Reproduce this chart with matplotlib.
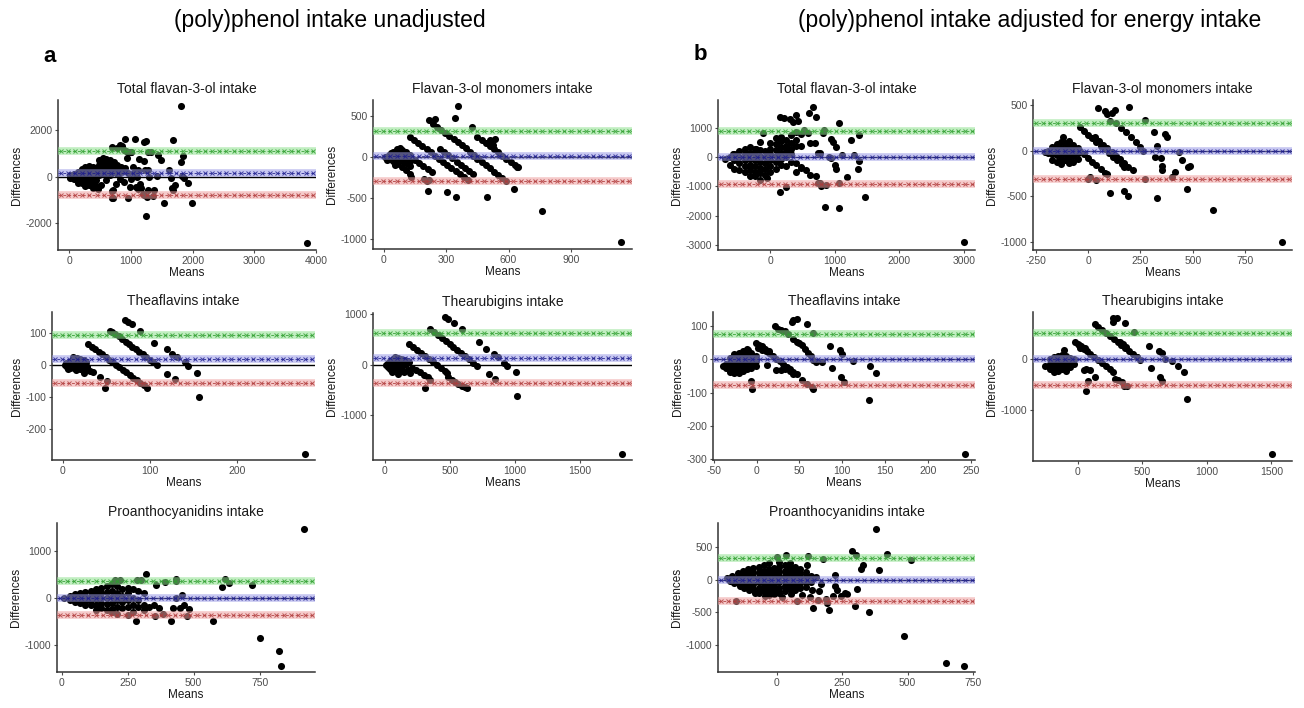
import numpy as np
import matplotlib
matplotlib.use('Agg')
import matplotlib.pyplot as plt

# Bland-Altman points (means, differences)
a1_pts = [(10,0),(20,60),(20,-60),(60,30),(60,-40),(80,120),(80,0),(80,-120),(110,60),(110,-60),
          (140,220),(140,60),(140,-100),(140,-260),(170,140),(170,-180),
          (200,320),(200,120),(200,-80),(200,-280),(230,230),(230,-180),(260,400),(260,200),(260,0),(260,-200),(260,-400),
          (290,300),(290,-300),(320,450),(320,250),(320,50),(320,-150),(320,-380),(350,120),(350,-250),
          (380,400),(380,180),(380,-50),(380,-250),(380,-480),(410,280),(410,-350),
          (440,350),(440,120),(440,-150),(440,-400),(480,700),(480,480),(480,260),(480,50),
          (540,820),(540,600),(540,380),(540,160),(600,760),(600,540),(600,320),(600,120),
          (660,700),(660,480),(660,260),(660,60),(720,620),(720,400),(720,180),(780,520),(780,300),(780,120),
          (840,420),(840,220),(900,350),(950,150),(470,-550),(520,-350),(600,-150),(690,-620),(700,-900),
          (760,-300),(830,-100),(880,-250),(980,-450),(820,1380),(860,1300),(880,1150),(920,1100),(960,1060),
          (1000,1050),(780,1250),(700,1290),(1812,3050),(1070,1626),(908,1611),(1210,1482),(1237,1540),
          (1688,1597),(1005,1079),(1274,1050),(1328,1050),(1435,935),(1489,719),(1129,748),(1204,690),
          (1812,633),(1839,892),(941,791),(1032,432),(1113,288),(1231,288),(1274,288),(1624,288),(1828,29),
          (1855,-72),(1919,-288),(1419,29),(1650,-72),(1715,-360),(1688,-576),(1661,-504),(1086,-432),
          (1113,-547),(1167,-504),(1220,-791),(1258,-863),(1274,-576),(1382,-576),(1355,-835),(710,-576),
          (710,-906),(952,-935),(1194,-748),(1247,-1698),(1532,-1151),(1984,-1151),(3850,-2850),
          (1050,150),(1100,0),(1000,-100),(1150,-300),(1300,0)]
a2_pts = [(5,0),(25,30),(25,-20),(45,70),(45,10),(45,-50),(65,100),(65,40),(65,-20),(65,-80),(85,90),(85,30),
          (85,-40),(85,-120),(105,60),(105,0),(105,-70),(105,-150),(125,30),(125,-40),(125,-110),(125,-200),
          (132,-236),(15,-30),(35,50),(55,-90),(75,110),(150,-30),(170,-68),(190,-106),(210,-144),(230,-182),
          (195,-270),(205,-285),(215,-275),(125,250),(145,212),(165,174),(185,136),(205,98),(225,60),(245,22),
          (265,-16),(285,-54),(305,-92),(325,-130),(345,-168),(365,-206),(385,-244),(405,-282),
          (270,100),(290,62),(310,24),(330,-14),(350,-52),(370,-90),(390,-128),(410,-166),(430,-204),
          (215,450),(235,412),(255,374),(275,336),(295,298),(315,260),(335,222),(355,184),(375,146),(395,108),
          (415,70),(435,32),(455,-6),(450,250),(470,212),(490,174),(510,136),(530,98),(550,60),(570,22),
          (590,-16),(610,-54),(630,-92),(645,-120),(430,16),(450,-22),(470,-60),(490,-98),(510,-136),
          (530,-174),(550,-212),(570,-250),(590,-288),(341,484),(357,626),(245,463),(422,366),(510,211),
          (535,220),(527,150),(626,-386),(494,-480),(349,-480),(304,-427),(213,-407),(763,-650),(1143,-1037),
          (559,28),(643,-122)]
a3_pts = [(2,0),(4,5),(5,-5),(7,10),(8,-8),(10,15),(10,0),(12,20),(13,-10),(14,8),(16,22),(17,-5),(18,12),
          (20,18),(20,-12),(22,5),(24,15),(24,-8),(6,-12),(15,-15),(26,10),(28,-6),(12,25),(16,17),(20,9),
          (24,1),(28,-7),(29,65),(33,57),(37,49),(41,41),(45,33),(49,25),(53,17),(57,9),(61,1),(65,-7),
          (69,-15),(73,-23),(77,-31),(81,-39),(85,-47),(89,-55),(93,-63),(97,-71),(54,105),(57,103),(60,97),
          (64,89),(68,81),(72,73),(76,65),(80,57),(84,49),(88,41),(92,33),(96,25),(100,17),(104,9),(108,1),
          (71,140),(75,135),(80,128),(89,107),(24,-26),(26,-13),(31,-18),(35,-21),(43,-36),(51,-49),(48,-72),
          (156,-98),(154,-24),(144,-3),(140,9),(131,24),(126,34),(120,49),(105,69),(120,-29),(129,-44),
          (278,-276)]
a4_pts = [(10,0),(20,-50),(25,40),(35,-90),(40,80),(50,0),(55,-140),(60,120),(70,40),(75,-60),(80,160),
          (90,80),(95,-30),(100,130),(110,-100),(115,40),(125,110),(130,-50),(140,60),(150,-140),(155,100),
          (165,20),(175,-100),(185,60),(190,-170),(60,-40),(30,20),(100,-180),(188,416),(218,356),(248,296),
          (278,236),(308,176),(338,116),(368,56),(398,-4),(428,-64),(458,-124),(476,-160),(347,706),(377,646),
          (407,586),(437,526),(467,466),(497,406),(527,346),(557,286),(587,226),(617,166),(647,106),(677,46),
          (707,-14),(463,944),(488,904),(532,825),(592,706),(210,-70),(240,-110),(270,-150),(300,-200),
          (330,-250),(347,-297),(309,-462),(488,-244),(515,-290),(540,-330),(565,-370),(592,-416),(615,-445),
          (630,-462),(720,442),(779,310),(836,218),(870,152),(913,46),(939,-20),(1008,-132),(797,-185),
          (849,-284),(1016,-614),(1821,-1762)]
a5_pts = [(10,0),(30,40),(30,-40),(50,80),(50,0),(50,-80),(70,100),(70,0),(70,-100),(90,120),(90,20),
          (90,-80),(90,-150),(110,150),(110,50),(110,-50),(110,-150),(130,200),(130,80),(130,-30),(130,-150),
          (130,-250),(150,220),(150,100),(150,0),(150,-100),(150,-220),(170,250),(170,120),(170,0),(170,-120),
          (170,-250),(190,300),(190,150),(190,20),(190,-100),(190,-230),(190,-300),(210,250),(210,100),
          (210,-50),(210,-200),(210,-330),(230,200),(230,50),(230,-80),(230,-220),(250,220),(250,100),
          (250,-50),(250,-200),(250,-350),(270,180),(270,0),(270,-150),(270,-300),(290,150),(290,-50),
          (290,-200),(310,100),(310,-150),(310,-260),(200,370),(220,390),(285,390),(330,-200),(350,-150),
          (321,514),(302,387),(358,282),(393,331),(432,401),(434,352),(457,70),(434,0),(609,225),(618,401),
          (634,317),(721,282),(917,1458),(415,-479),(573,-493),(283,-479),(352,-373),(384,-338),(422,-211),
          (447,-211),(462,-141),(476,-373),(482,-225),(369,-211),(750,-845),(824,-1113),(832,-1430)]
b1_pts = [(-700,-50),(-620,0),(-620,-250),(-560,100),(-560,-100),(-560,-400),(-480,200),(-480,0),(-480,-200),
          (-480,-450),(-400,300),(-400,100),(-400,-100),(-400,-300),(-400,-500),(-320,350),(-320,150),
          (-320,-50),(-320,-250),(-320,-450),(-320,-650),(-240,300),(-240,100),(-240,-100),(-240,-300),
          (-240,-500),(-240,-650),(-160,250),(-160,50),(-160,-150),(-160,-350),(-160,-550),(-80,200),(-80,0),
          (-80,-200),(-80,-400),(-80,-600),(0,500),(0,300),(0,100),(0,-100),(0,-300),(0,-500),(80,650),
          (80,450),(80,250),(80,50),(80,-150),(80,-400),(160,700),(160,550),(160,350),(160,150),(160,-50),
          (160,-250),(240,600),(240,400),(240,200),(240,0),(240,-300),(320,750),(320,500),(320,300),(320,100),
          (320,-150),(400,850),(400,600),(400,400),(400,-200),(400,-500),(480,800),(480,400),(480,-350),
          (-160,540),(-110,840),(-230,280),(-580,120),(-165,-775),(-52,-718),(662,1733),(600,1528),(704,1391),
          (145,1391),(212,1357),(352,1220),(429,1254),(404,1448),(300,1300),(1066,1163),(973,536),(817,844),
          (828,935),(517,935),(585,844),(610,502),(698,479),(740,160),(776,160),(932,616),(1014,365),
          (1102,80),(1293,80),(1376,764),(1247,593),(910,0),(946,-23),(998,-262),(1024,-410),(1066,-889),
          (1376,-114),(1360,-410),(1190,-684),(481,-342),(559,-433),(610,-604),(704,-639),(740,-889),
          (786,-981),(766,-889),(238,-1003),(869,-946),(843,-1710),(1061,-1744),(1464,-1368),(155,-1174),
          (3000,-2907)]
b2_pts = [(-207,-11),(-190,0),(-190,-30),(-170,40),(-170,-40),(-170,-100),(-150,70),(-150,10),(-150,-50),
          (-150,-120),(-130,90),(-130,30),(-130,-30),(-130,-90),(-130,-150),(-110,80),(-110,20),(-110,-40),
          (-110,-100),(-90,110),(-90,50),(-90,-10),(-90,-70),(-90,-130),(-70,60),(-70,0),(-70,-60),(-70,-120),
          (-50,30),(-50,-30),(-50,-90),(-120,145),(-40,254),(-20,214),(0,174),(20,134),(40,94),(60,54),
          (80,14),(100,-26),(120,-66),(140,-106),(160,-146),(170,-180),(-40,0),(-20,-40),(0,-80),(20,-120),
          (40,-160),(60,-200),(80,-240),(90,-260),(32,145),(52,105),(72,65),(92,25),(112,-15),(132,-55),
          (152,-95),(172,-135),(192,-175),(215,-217),(159,246),(183,199),(207,145),(231,90),(247,40),(263,0),
          (48,464),(80,435),(92,406),(112,417),(128,442),(195,478),(104,326),(132,297),(314,199),(271,333),
          (367,181),(375,152),(327,54),(319,-65),(348,-80),(351,-163),(351,-217),(399,-283),(415,-236),
          (435,-18),(451,-101),(478,-181),(489,-163),(474,-424),(104,-464),(171,-442),(191,-500),(327,-514),
          (598,-645),(925,-1004),(271,-308),(0,-308),(8,-290),(40,-326)]
b3_pts = [(-39,-21),(-36,-15),(-36,-25),(-31,5),(-31,-10),(-31,-25),(-31,-38),(-26,15),(-26,0),(-26,-15),
          (-26,-30),(-26,-42),(-21,20),(-21,5),(-21,-10),(-21,-25),(-21,-40),(-16,25),(-16,10),(-16,-5),
          (-16,-20),(-16,-35),(-11,30),(-11,15),(-11,0),(-11,-15),(-11,-30),(-6,20),(-6,5),(-6,-10),(-6,-25),
          (-1,10),(-1,-5),(-1,-20),(-10,28),(-1,50),(3,42),(7,34),(11,26),(15,18),(19,10),(23,2),(27,-6),
          (31,-14),(35,-22),(39,-30),(43,-38),(2,35),(6,40),(10,30),(14,25),(6,28),(21,99),(25,92),(29,88),
          (33,84),(37,75),(43,62),(47,52),(50,49),(53,44),(57,32),(60,19),(63,10),(66,-1),(70,-8),(77,-8),
          (41,112),(43,118),(47,122),(59,107),(66,79),(12,-18),(23,-31),(29,-33),(33,-28),(39,-35),(43,-43),
          (47,-45),(53,-63),(59,-73),(65,-83),(66,-88),(-5,-88),(-7,-65),(86,40),(88,-26),(98,27),(100,17),
          (99,-53),(102,-68),(113,-6),(132,-21),(140,-41),(131,-121),(243,-284)]
b4_pts = [(-253,-137),(-210,0),(-210,-100),(-210,-200),(-180,50),(-180,-50),(-180,-150),(-180,-250),
          (-150,60),(-150,-30),(-150,-130),(-150,-230),(-120,80),(-120,-10),(-120,-100),(-120,-200),(-90,60),
          (-90,-30),(-90,-130),(-90,-230),(-60,30),(-60,-60),(-60,-160),(-30,0),(-30,-90),(-103,176),
          (-20,340),(10,280),(40,220),(70,160),(100,100),(130,40),(160,-20),(190,-80),(220,-140),(250,-200),
          (277,-248),(0,300),(30,260),(60,230),(20,220),(50,200),(134,686),(160,640),(190,580),(220,520),
          (250,460),(280,400),(310,340),(340,280),(370,220),(400,160),(430,100),(460,40),(484,-20),(277,817),
          (302,817),(277,732),(367,712),(328,340),(349,307),(375,242),(458,46),(437,536),(556,261),(569,-163),
          (634,163),(652,124),(678,0),(729,-33),(781,-137),(825,-248),(639,-346),(652,-431),(851,-771),
          (1505,-1863),(65,-183),(96,-216),(134,-346),(290,-379),(315,-412),(341,-444),(359,-529),(380,-529),
          (65,-621),(78,-425),(49,-216)]
b5_pts = [(-190,20),(-180,-20),(-170,60),(-165,-50),(-150,100),(-150,30),(-150,-40),(-140,-100),
          (-130,130),(-130,50),(-130,-30),(-125,-120),(-110,160),(-110,80),(-110,0),(-110,-80),
          (-105,-160),(-90,180),(-90,100),(-90,20),(-90,-60),(-90,-140),(-85,-210),(-70,200),
          (-70,120),(-70,40),(-70,-40),(-70,-120),(-70,-200),(-50,230),(-50,140),(-50,60),(-50,-20),
          (-50,-100),(-50,-180),(-45,-250),(-30,250),(-30,160),(-30,80),(-30,0),(-30,-80),(-30,-160),(-30,-230),
          (-10,180),(-10,100),(-10,20),(-10,-60),(-10,-140),(-10,-220),(10,270),(10,200),
          (10,120),(10,40),(10,-40),(10,-120),(10,-200),(20,-270),(30,220),(30,140),(30,60),(30,-20),
          (30,-100),(30,-180),(50,260),(50,180),(50,100),(50,20),(50,-60),(50,-140),(55,-220),(70,200),
          (70,130),(70,60),(70,0),(70,-80),(70,-160),(90,160),(90,90),(90,20),(90,-50),(90,-120),
          (95,-230),(110,120),(110,40),(110,-30),(110,-110),(130,60),(130,-40),(135,-150),
          (380,772),(423,396),(287,442),(301,381),(331,228),(321,162),(392,152),(513,294),(176,315),(223,76),
          (223,-102),(229,-152),(213,-244),(246,-244),(259,-203),(268,-218),(306,-142),(299,-396),(353,-497),
          (200,-457),(138,-431),(159,-305),(189,-294),(191,-355),(487,-863),(647,-1269),(716,-1320),
          (-155,-320),(76,-320),(125,-264),(36,381),(0,340),(121,365),(115,228),(160,-180),(150,40),(170,-60)]

# mean difference, upper and lower limits of agreement
a_limits = [(150, 1100, -780), (15, 320, -285), (20, 95, -55), (130, 620, -360), (0, 355, -365)]
b_limits = [(0, 910, -910), (0, 300, -305), (0, 77, -76), (0, 505, -505), (0, 330, -330)]
titles = ['Total flavan-3-ol intake', 'Flavan-3-ol monomers intake', 'Theaflavins intake',
          'Thearubigins intake', 'Proanthocyanidins intake']
a_xticks = [[0, 1000, 2000, 3000, 4000], [0, 300, 600, 900], [0, 100, 200], [0, 500, 1000, 1500], [0, 250, 500, 750]]
a_yticks = [[-2000, 0, 2000], [-1000, -500, 0, 500], [-200, -100, 0, 100], [-1000, 0, 1000], [-1000, 0, 1000]]
b_xticks = [[0, 1000, 2000, 3000], [-250, 0, 250, 500, 750], [-50, 0, 50, 100, 150, 200, 250], [0, 500, 1000, 1500], [0, 250, 500, 750]]
b_yticks = [[-3000, -2000, -1000, 0, 1000], [-1000, -500, 0, 500], [-300, -200, -100, 0, 100], [-1000, 0], [-1000, -500, 0, 500]]

W, H = 1304, 708
plt.rcParams['font.family'] = ['Liberation Sans', 'DejaVu Sans']
plt.rcParams['axes.unicode_minus'] = False
fig = plt.figure(figsize=(W / 100, H / 100), dpi=100)

# panel rectangles in pixels (left, top, right, bottom) and axis ranges
a_rects = [(58, 100, 316, 250), (373, 100, 632, 249), (52, 312, 315, 460), (373, 313, 632, 460), (57, 523, 315, 672)]
b_rects = [(718, 100, 975, 250), (1033, 100, 1292, 250), (713, 312, 975, 460), (1033, 312, 1292, 461), (718, 523, 975, 672)]
a_lims = [((-182, 3990), (-3160, 3300)), ((-53, 1195), (-1118, 699)), ((-12.6, 290), (-295, 165)),
          ((-92, 1900), (-1880, 1024)), ((-18, 960), (-1565, 1585))]
b_lims = [((-813, 3172), (-3175, 1962)), ((-263, 974), (-1087, 554)), ((-50.8, 255), (-302, 142)),
          ((-345, 1660), (-1993, 926)), ((-225, 758), (-1407, 864))]

line_cols = [('#9a9ae6', '#1a1a8c'), ('#8fe08f', '#2e9e2e'), ('#eea0a0', '#b03a3a')]


def limit_line(ax, y, light, dark, xlim):
    ax.axhline(y, color=light, lw=5.5, alpha=0.55, zorder=3)
    xs = np.linspace(xlim[0] + (xlim[1] - xlim[0]) * 0.01, xlim[1] - (xlim[1] - xlim[0]) * 0.01, 36)
    ax.plot(xs, np.full(len(xs), y), ls='none', marker='x', ms=3.2, mew=0.7, color=dark, alpha=0.8, zorder=4)
    ax.axhline(y, color=dark, lw=0.7, ls=(0, (3, 2)), alpha=0.8, zorder=4)


def panel(rect, title, pts, lims, limits, xt, yt):
    l, t, r, b = rect
    ax = fig.add_axes([l / W, 1 - b / H, (r - l) / W, (b - t) / H])
    pts = np.array(pts, dtype=float)
    ax.scatter(pts[:, 0], pts[:, 1], s=26, color='black', linewidths=0, zorder=2)
    ax.set_xlim(lims[0])
    ax.set_ylim(lims[1])
    ax.axhline(0, color='black', lw=1.0, zorder=2.5)
    for yv, (light, dark) in zip(limits, line_cols):
        limit_line(ax, yv, light, dark, lims[0])
    ax.set_xticks(xt)
    ax.set_yticks(yt)
    for s in ['top', 'right']:
        ax.spines[s].set_visible(False)
    for s in ['left', 'bottom']:
        ax.spines[s].set_color('#333333')
        ax.spines[s].set_linewidth(1.1)
    ax.tick_params(labelsize=7.5, colors='#4d4d4d', length=2.5, width=0.8, pad=1.5)
    ax.set_title(title, fontsize=10, pad=5, color='#1a1a1a')
    ax.set_xlabel('Means', fontsize=8.5, labelpad=1, color='#1a1a1a')
    ax.set_ylabel('Differences', fontsize=8.5, labelpad=2, color='#1a1a1a')
    return ax


a_data = [a1_pts, a2_pts, a3_pts, a4_pts, a5_pts]
b_data = [b1_pts, b2_pts, b3_pts, b4_pts, b5_pts]
for i in range(5):
    panel(a_rects[i], titles[i], a_data[i], a_lims[i], a_limits[i], a_xticks[i], a_yticks[i])
    panel(b_rects[i], titles[i], b_data[i], b_lims[i], b_limits[i], b_xticks[i], b_yticks[i])

fig.text(330 / W, 1 - 20 / H, '(poly)phenol intake unadjusted', ha='center', va='center', fontsize=16.5)
fig.text(1030 / W, 1 - 20 / H, '(poly)phenol intake adjusted for energy intake', ha='center', va='center', fontsize=16.5)
fig.text(50 / W, 1 - 57 / H, 'a', ha='center', va='center', fontsize=16, fontweight='bold')
fig.text(700 / W, 1 - 55 / H, 'b', ha='center', va='center', fontsize=16, fontweight='bold')

fig.savefig('out.png', dpi=100)
